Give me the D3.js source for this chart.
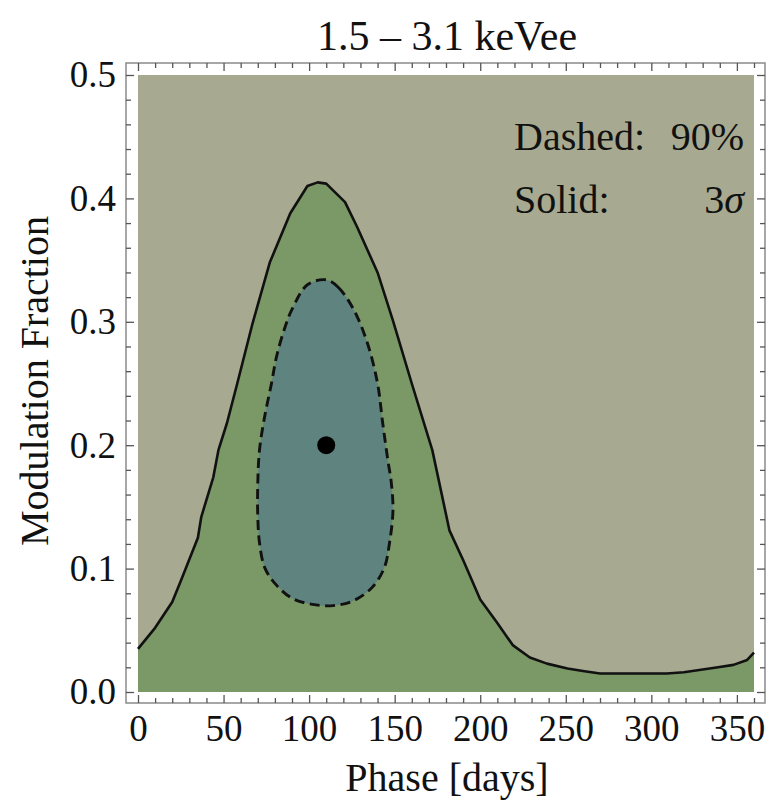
<!DOCTYPE html>
<html>
<head>
<meta charset="utf-8">
<script src="https://cdn.jsdelivr.net/npm/d3@7"></script>
<style>
  html, body { margin: 0; padding: 0; background: #ffffff; }
  svg { display: block; }
  text { font-family: "Liberation Serif", "Times New Roman", serif; fill: #111; }
</style>
</head>
<body>
<svg id="chart" width="772" height="805"></svg>
<script>
// Phase axis ticks and modulation-fraction axis ticks
const xTickValues = [0, 50, 100, 150, 200, 250, 300, 350];
const yTickValues = [0.0, 0.1, 0.2, 0.3, 0.4, 0.5];

// 3 sigma contour (solid): boundary of the allowed region, phase [days] vs modulation fraction
const solidPhase = [0, 10, 20, 25, 35, 37, 44, 47, 52, 58, 67, 77, 89, 99, 105, 110, 121, 128, 140, 149,
                    160, 172, 182, 190, 200, 210, 219, 229, 239, 251, 260, 270, 290, 309, 319, 329, 339, 348, 356, 360];
const solidMod   = [0.035, 0.052, 0.073, 0.090, 0.125, 0.142, 0.174, 0.196, 0.218, 0.250, 0.299, 0.348, 0.388, 0.410, 0.413, 0.412, 0.397, 0.377, 0.340, 0.301,
                    0.250, 0.196, 0.131, 0.107, 0.075, 0.056, 0.038, 0.028, 0.023, 0.019, 0.017, 0.015, 0.015, 0.015, 0.016, 0.018, 0.020, 0.022, 0.026, 0.032];

// 90% contour (dashed): closed loop around the best fit
const dashPhase = [110, 117, 126, 134, 140, 143, 146, 148, 149, 147, 144, 137, 126, 114, 102, 90, 80, 74, 71, 70,
                   70, 71, 74, 78, 81, 86, 90, 99];
const dashMod   = [0.334, 0.328, 0.310, 0.283, 0.250, 0.218, 0.188, 0.170, 0.147, 0.121, 0.101, 0.085, 0.074, 0.070, 0.071, 0.076, 0.088, 0.101, 0.121, 0.142,
                   0.169, 0.196, 0.223, 0.250, 0.272, 0.296, 0.310, 0.330];

// Best-fit point
const bestPhase = [110];
const bestMod = [0.2];

const title = "1.5 \u2013 3.1 keVee";
const xLabel = "Phase [days]";
const yLabel = "Modulation Fraction";

const colors = {
  outside: "#a7aa90",
  sigma3: "#7b9867",
  cl90: "#5f847f"
};

const svg = d3.select("#chart");
const tickFont = 37;
const labelFont = 40;
const titleFont = 42;
const legendFont = 40;

const x = d3.scaleLinear().domain([0, 360]).range([138, 754]);
const y = d3.scaleLinear().domain([0, 0.5]).range([692, 75]);

// frame sits a little outside the data region
const frame = { left: 126, right: 765, top: 63, bottom: 703 };

// background region (excluded)
svg.append("rect")
  .attr("x", x(0)).attr("y", y(0.5))
  .attr("width", x(360) - x(0)).attr("height", y(0) - y(0.5))
  .attr("fill", colors.outside);

// 3 sigma allowed region
const solidPts = solidPhase.map((p, i) => [p, solidMod[i]]);
svg.append("path")
  .datum(solidPts)
  .attr("fill", colors.sigma3)
  .attr("d", d3.area().x(d => x(d[0])).y0(y(0)).y1(d => y(d[1])));

// 90% region
const dashPts = dashPhase.map((p, i) => [p, dashMod[i]]);
const closedLine = d3.line().x(d => x(d[0])).y(d => y(d[1])).curve(d3.curveCatmullRomClosed.alpha(0.5));
svg.append("path")
  .datum(dashPts)
  .attr("fill", colors.cl90)
  .attr("d", closedLine);

// contour lines
svg.append("path")
  .datum(solidPts)
  .attr("fill", "none")
  .attr("stroke", "#111")
  .attr("stroke-width", 2.6)
  .attr("stroke-linejoin", "round")
  .attr("d", d3.line().x(d => x(d[0])).y(d => y(d[1])));

svg.append("path")
  .datum(dashPts)
  .attr("fill", "none")
  .attr("stroke", "#111")
  .attr("stroke-width", 2.9)
  .attr("stroke-dasharray", "10,5.5")
  .attr("d", closedLine);

// best fit
svg.selectAll("circle.best")
  .data(bestPhase.map((p, i) => [p, bestMod[i]]))
  .join("circle")
  .attr("class", "best")
  .attr("cx", d => x(d[0])).attr("cy", d => y(d[1]))
  .attr("r", 9)
  .attr("fill", "#000");

// frame
svg.append("rect")
  .attr("x", frame.left).attr("y", frame.top)
  .attr("width", frame.right - frame.left).attr("height", frame.bottom - frame.top)
  .attr("fill", "none").attr("stroke", "#8a8a8a").attr("stroke-width", 1.5);

const xMinor = d3.range(0, 361, 10).filter(v => v % 50 !== 0);
const yMinor = d3.range(0, 51, 2).map(v => v / 100).filter(v => Math.round(v * 100) % 10 !== 0);

function styleAxis(g) {
  g.select(".domain").remove();
  g.selectAll(".tick line").attr("stroke", "#555").attr("stroke-width", 1.3);
  g.selectAll(".tick text").style("font-size", tickFont + "px").attr("fill", "#111")
    .style("font-family", "'Liberation Serif', 'Times New Roman', serif");
}

// bottom
svg.append("g").attr("transform", `translate(0,${frame.bottom})`)
  .call(d3.axisBottom(x).tickValues(xTickValues).tickSizeInner(-8).tickSizeOuter(0).tickPadding(12).tickFormat(d3.format("d")))
  .call(styleAxis);
svg.append("g").attr("transform", `translate(0,${frame.bottom})`)
  .call(d3.axisBottom(x).tickValues(xMinor).tickSizeInner(-5).tickSizeOuter(0).tickFormat(""))
  .call(styleAxis);
// top
svg.append("g").attr("transform", `translate(0,${frame.top})`)
  .call(d3.axisTop(x).tickValues(xTickValues).tickSizeInner(-8).tickSizeOuter(0).tickFormat(""))
  .call(styleAxis);
svg.append("g").attr("transform", `translate(0,${frame.top})`)
  .call(d3.axisTop(x).tickValues(xMinor).tickSizeInner(-5).tickSizeOuter(0).tickFormat(""))
  .call(styleAxis);
// left
svg.append("g").attr("transform", `translate(${frame.left},0)`)
  .call(d3.axisLeft(y).tickValues(yTickValues).tickSizeInner(-8).tickSizeOuter(0).tickPadding(10).tickFormat(d3.format(".1f")))
  .call(styleAxis);
svg.append("g").attr("transform", `translate(${frame.left},0)`)
  .call(d3.axisLeft(y).tickValues(yMinor).tickSizeInner(-5).tickSizeOuter(0).tickFormat(""))
  .call(styleAxis);
// right
svg.append("g").attr("transform", `translate(${frame.right},0)`)
  .call(d3.axisRight(y).tickValues(yTickValues).tickSizeInner(-8).tickSizeOuter(0).tickFormat(""))
  .call(styleAxis);
svg.append("g").attr("transform", `translate(${frame.right},0)`)
  .call(d3.axisRight(y).tickValues(yMinor).tickSizeInner(-5).tickSizeOuter(0).tickFormat(""))
  .call(styleAxis);

// title and axis labels
svg.append("text")
  .attr("x", 447).attr("y", 50)
  .attr("text-anchor", "middle")
  .style("font-size", titleFont + "px")
  .text(title);

svg.append("text")
  .attr("x", 447).attr("y", 791)
  .attr("text-anchor", "middle")
  .style("font-size", labelFont + "px")
  .text(xLabel);

svg.append("text")
  .attr("transform", "translate(48,381) rotate(-90)")
  .attr("text-anchor", "middle")
  .style("font-size", labelFont + "px")
  .text(yLabel);

// legend
const legend = svg.append("g").style("font-size", legendFont + "px");
legend.append("text").attr("x", 514).attr("y", 150).text("Dashed:");
legend.append("text").attr("x", 744).attr("y", 150).attr("text-anchor", "end").text("90%");
legend.append("text").attr("x", 514).attr("y", 213).text("Solid:");
const sig = legend.append("text").attr("x", 744).attr("y", 213).attr("text-anchor", "end");
sig.append("tspan").text("3");
sig.append("tspan").style("font-style", "italic").text("\u03c3");
</script>
</body>
</html>
